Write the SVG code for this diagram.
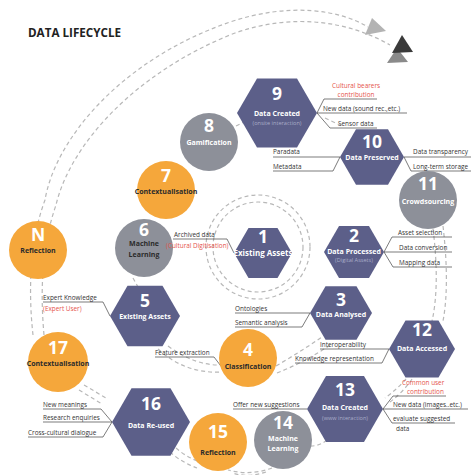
<svg xmlns="http://www.w3.org/2000/svg" width="471" height="475" viewBox="0 0 471 475">
<style>
.hex{fill:#5c5f89}
.org{fill:#f5a73b}
.gry{fill:#8d9099}
.num{font-family:"Open Sans","Liberation Sans",sans-serif;font-weight:bold;font-size:17.5px;fill:#fff;text-anchor:middle}
.nl{font-family:"Open Sans","Liberation Sans",sans-serif;font-weight:bold;font-size:7px;fill:#fff;text-anchor:middle}
.nd{font-family:"Open Sans","Liberation Sans",sans-serif;font-weight:bold;font-size:7px;fill:#2b2b2b;text-anchor:middle}
.sub{font-family:"Open Sans","Liberation Sans",sans-serif;font-size:5.6px;fill:#a9acc8;text-anchor:middle}
.lb{font-family:"Open Sans","Liberation Sans",sans-serif;font-size:6.4px;fill:#333}
.red{font-family:"Open Sans","Liberation Sans",sans-serif;font-size:6.4px;fill:#e5534b}
.ld{fill:none;stroke:#444;stroke-width:0.7}
.ds{fill:none;stroke:#b8b8b8;stroke-width:1.2;stroke-dasharray:4 3}
</style>
<rect width="471" height="475" fill="#fff"/>
<text x="28" y="37" font-family="'Open Sans','Liberation Sans',sans-serif" font-weight="bold" font-size="11.5" fill="#222" textLength="93" lengthAdjust="spacingAndGlyphs">DATA LIFECYCLE</text>

<g id="connectors">
  <path class="ds" d="M33,335 C28,290 30,240 45,200 C55,140 120,60 230,22 C290,2 340,10 368,27"/>
  <path class="ds" d="M44,335 C40,290 42,245 56,205 C70,145 135,72 235,33 C295,12 350,22 390,45"/>
  <polygon points="365,35 372,18 386,31" fill="#b3b3b3"/>
  <polygon points="387,63 397,48 408,62" fill="#8a8a8a"/>
  <polygon points="392,53 402,35 413,52" fill="#3a3a3a"/>
  <circle class="ds" cx="258" cy="247" r="45"/>
  <circle class="ds" cx="258" cy="247" r="52"/>
  <path class="ds" d="M433,229 C437,260 438,295 432,321"/>
  <path class="ds" d="M443,226 C447,260 448,295 443,321"/>
  <path class="ds" d="M406,379 C400,386 393,392 385,398"/>
  <path class="ds" d="M412,379 C406,388 398,396 390,402"/>
  <path class="ds" d="M327,440 C322,444 317,446 311,446"/>
  <path class="ds" d="M272,468 Q250,476 228,470"/>
  <path class="ds" d="M266,472 Q248,478 232,473"/>
  <path class="ds" d="M170,452 Q181,462 197,468"/>
  <path class="ds" d="M176,448 Q186,457 200,462"/>
  <path class="ds" d="M79,390 L102,404"/>
  <path class="ds" d="M84,385 L106,398"/>
  <path class="ds" d="M276,366 Q300,352 322,337"/>
  <path class="ds" d="M277,373 Q305,362 332,344"/>
  <path class="ds" d="M158,349 Q185,374 222,372"/>
  <path class="ds" d="M168,346 Q195,366 222,365"/>
  <path class="ds" d="M133,278 L138,287"/>
  <path class="ds" d="M236,126 L244,122"/>
  <path class="ds" d="M325,118 L342,126"/>
  <path class="ld" d="M317,113 L324,99 L377,99 M317,113 L407,113 M317,113 L330,128 L377,128"/>
  <path class="ld" d="M273,157 L340,157 M273,171 L333,171 L340,157"/>
  <path class="ld" d="M404,157 L471,157 M404,157 L411,171 L471,171"/>
  <path class="ld" d="M384,252 L392,237 L452,237 M384,252 L452,252 M384,252 L393,267 L452,267"/>
  <path class="ld" d="M173,239 L227,239 L234,253"/>
  <path class="ld" d="M43,302 L103,302 L110,316"/>
  <path class="ld" d="M235,313 L310,313 M235,327 L302,327 L310,313"/>
  <path class="ld" d="M155,357 L214,357 L224,370"/>
  <path class="ld" d="M320,349 L389,349 M295,363 L382,363 L389,349"/>
  <path class="ld" d="M383,409 L393,396 L446,396 M383,409 L468,409 M383,409 L392,423 L455,423"/>
  <path class="ld" d="M233,409 L307,409"/>
  <path class="ld" d="M43,409 L101,409 L112,422 M43,422 L112,422 M28,437 L103,437 L112,422"/>
</g>

<g id="n9">
  <polygon class="hex" points="237,113 257,78.4 297,78.4 317,113 297,147.6 257,147.6"/>
  <text class="num" x="277" y="100">9</text>
  <text class="nl" x="277" y="116">Data Created</text>
  <text class="sub" x="277" y="125">(onsite interaction)</text>
</g>
<g id="n10">
  <polygon class="hex" points="340,157 356,129.3 388,129.3 404,157 388,184.7 356,184.7"/>
  <text class="num" x="372" y="148">10</text>
  <text class="nl" x="372" y="160">Data Preserved</text>
</g>
<g id="n11">
  <circle class="gry" cx="428" cy="200" r="29"/>
  <text class="num" x="428" y="190">11</text>
  <text class="nl" x="428" y="204">Crowdsourcing</text>
</g>
<g id="n8">
  <circle class="gry" cx="209" cy="142" r="29"/>
  <text class="num" x="209" y="132">8</text>
  <text class="nl" x="209" y="145">Gamification</text>
</g>
<g id="n7">
  <circle class="org" cx="166" cy="190" r="29"/>
  <text class="num" x="166" y="182">7</text>
  <text class="nd" x="166" y="194">Contextualisation</text>
</g>
<g id="n6">
  <circle class="gry" cx="144" cy="248" r="29"/>
  <text class="num" x="144" y="236">6</text>
  <text class="nd" x="144" y="246">Machine</text>
  <text class="nd" x="144" y="257">Learning</text>
</g>
<g id="nN">
  <circle class="org" cx="38" cy="250" r="29"/>
  <text class="num" x="38" y="241">N</text>
  <text class="nd" x="38" y="253">Reflection</text>
</g>
<g id="n1">
  <polygon class="hex" points="234,253 248.5,227.9 277.5,227.9 292,253 277.5,278.1 248.5,278.1"/>
  <text class="num" x="263" y="243">1</text>
  <text class="nl" x="263" y="256" style="font-size:8px">Existing Assets</text>
</g>
<g id="n2">
  <polygon class="hex" points="324,252 339,226 369,226 384,252 369,278 339,278"/>
  <text class="num" x="354" y="242">2</text>
  <text class="nl" x="354" y="254">Data Processed</text>
  <text class="sub" x="354" y="262">(Digital Assets)</text>
</g>
<g id="n3">
  <polygon class="hex" points="310,313 325.5,286.2 356.5,286.2 372,313 356.5,339.8 325.5,339.8"/>
  <text class="num" x="341" y="306">3</text>
  <text class="nl" x="341" y="317">Data Analysed</text>
</g>
<g id="n5">
  <polygon class="hex" points="110,316 127.5,285.7 162.5,285.7 180,316 162.5,346.3 127.5,346.3"/>
  <text class="num" x="145" y="307">5</text>
  <text class="nl" x="145" y="319">Existing Assets</text>
</g>
<g id="n4">
  <circle class="org" cx="248" cy="358" r="29"/>
  <text class="num" x="248" y="356">4</text>
  <text class="nd" x="248" y="369">Classification</text>
</g>
<g id="n12">
  <polygon class="hex" points="389,349 405.5,320.4 438.5,320.4 455,349 438.5,377.6 405.5,377.6"/>
  <text class="num" x="422" y="336">12</text>
  <text class="nl" x="422" y="351">Data Accessed</text>
</g>
<g id="n13">
  <polygon class="hex" points="307,409 326,376.1 364,376.1 383,409 364,441.9 326,441.9"/>
  <text class="num" x="345" y="396">13</text>
  <text class="nl" x="345" y="410">Data Created</text>
  <text class="sub" x="345" y="420">(www interaction)</text>
</g>
<g id="n14">
  <circle class="gry" cx="283" cy="440" r="29"/>
  <text class="num" x="283" y="429">14</text>
  <text class="nl" x="283" y="441">Machine</text>
  <text class="nl" x="283" y="451">Learning</text>
</g>
<g id="n15">
  <circle class="org" cx="218" cy="442" r="29"/>
  <text class="num" x="218" y="438">15</text>
  <text class="nd" x="218" y="455">Reflection</text>
</g>
<g id="n16">
  <polygon class="hex" points="112,422 131.5,388.2 170.5,388.2 190,422 170.5,455.8 131.5,455.8"/>
  <text class="num" x="151" y="410">16</text>
  <text class="nl" x="151" y="428">Data Re-used</text>
</g>
<g id="n17">
  <circle class="org" cx="58" cy="362" r="30"/>
  <text class="num" x="58" y="354">17</text>
  <text class="nd" x="58" y="366">Contextualisation</text>
</g>

<g id="labels">
  <text class="red" x="356" y="88" text-anchor="middle">Cultural bearers</text>
  <text class="red" x="356" y="97" text-anchor="middle">contribution</text>
  <text class="lb" x="323" y="111">New data (sound rec.,etc.)</text>
  <text class="lb" x="338" y="126">Sensor data</text>
  <text class="lb" x="273" y="154">Paradata</text>
  <text class="lb" x="273" y="169">Metadata</text>
  <text class="lb" x="413" y="154">Data transparency</text>
  <text class="lb" x="413" y="169">Long-term storage</text>
  <text class="lb" x="398" y="235">Asset selection</text>
  <text class="lb" x="399" y="250">Data conversion</text>
  <text class="lb" x="399" y="265">Mapping data</text>
  <text class="lb" x="174" y="237">Archived data</text>
  <text class="red" x="166" y="248">(Cultural Digitisation)</text>
  <text class="lb" x="43" y="300">Expert Knowledge</text>
  <text class="red" x="43" y="311">(Expert User)</text>
  <text class="lb" x="235" y="311">Ontologies</text>
  <text class="lb" x="235" y="325">Semantic analysis</text>
  <text class="lb" x="155" y="355">Feature extraction</text>
  <text class="lb" x="320" y="347">Interoperability</text>
  <text class="lb" x="295" y="361">Knowledge representation</text>
  <text class="red" x="402" y="385">Common user</text>
  <text class="red" x="407" y="394">contribution</text>
  <text class="lb" x="393" y="407">New data (images..etc.)</text>
  <text class="lb" x="393" y="421">evaluate suggested</text>
  <text class="lb" x="396" y="431">data</text>
  <text class="lb" x="233" y="407">Offer new suggestions</text>
  <text class="lb" x="43" y="407">New meanings</text>
  <text class="lb" x="43" y="420">Research enquiries</text>
  <text class="lb" x="28" y="435">Cross-cultural dialogue</text>
</g>
</svg>
